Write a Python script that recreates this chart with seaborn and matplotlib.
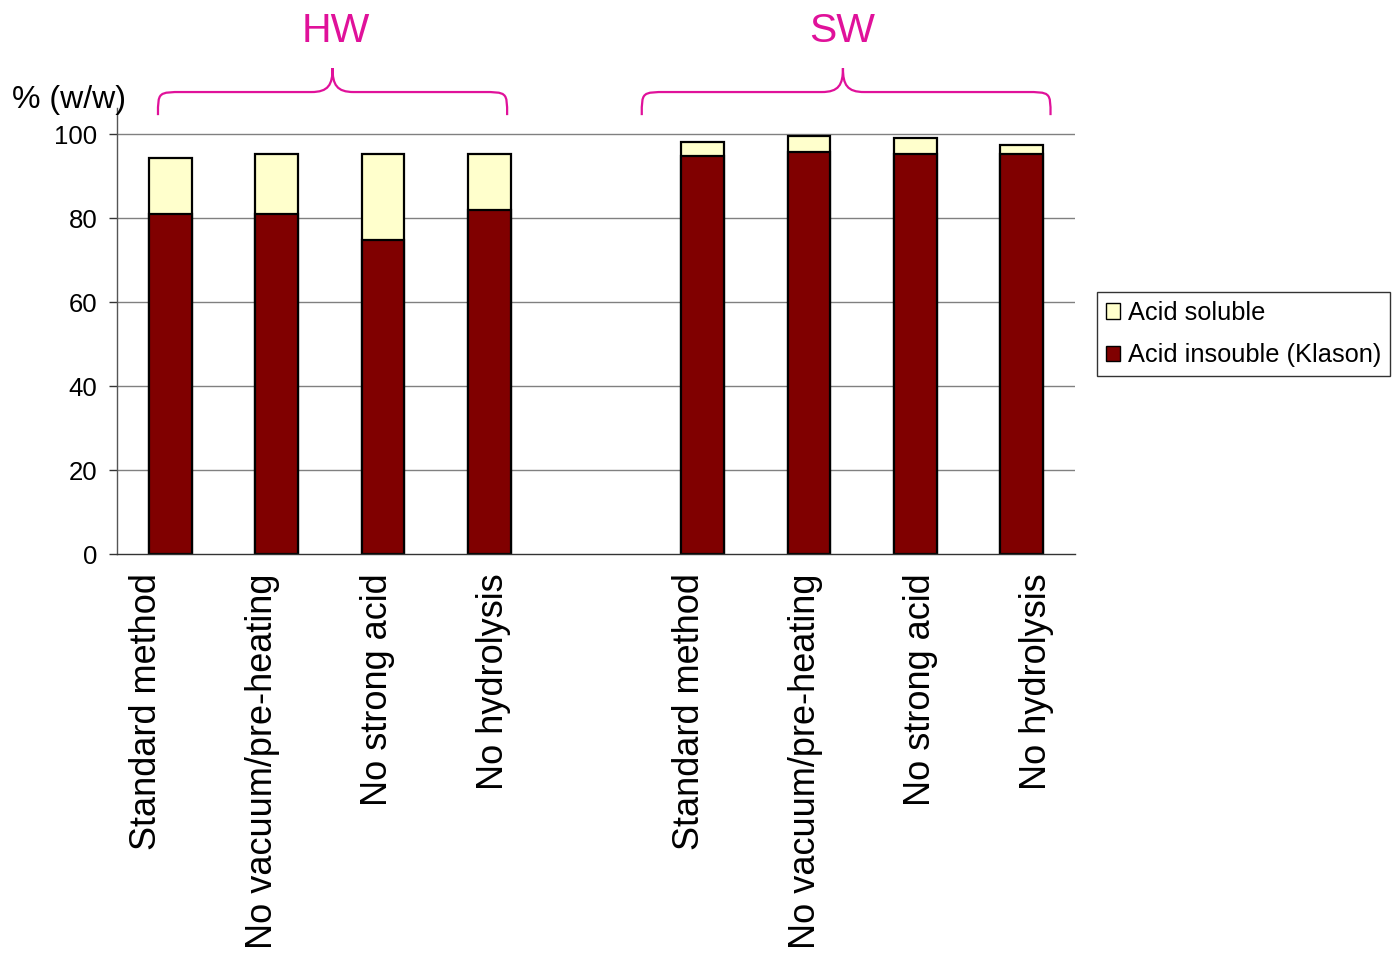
import numpy as np
import pandas as pd
import matplotlib
matplotlib.use("Agg")
import matplotlib.pyplot as plt
from matplotlib.path import Path
from matplotlib.patches import PathPatch, Patch
import seaborn as sns

# Lignin determination: acid-insoluble (Klason) and acid-soluble fractions
methods = ["Standard method", "No vacuum/pre-heating", "No strong acid", "No hydrolysis"]
groups = ["HW", "SW"]
hw_insoluble = [81.0, 81.0, 74.8, 82.0]
hw_soluble = [13.4, 14.3, 20.5, 13.3]
sw_insoluble = [94.8, 95.7, 95.3, 95.2]
sw_soluble = [3.4, 3.9, 3.8, 2.1]
y_ticks = [0, 20, 40, 60, 80, 100]

rows = []
for g, ins, sol in [("HW", hw_insoluble, hw_soluble), ("SW", sw_insoluble, sw_soluble)]:
    for m, a, b in zip(methods, ins, sol):
        rows.append({"key": f"{g}|{m}", "method": m, "insoluble": a, "soluble": b,
                     "total": a + b})
df = pd.DataFrame(rows)
order = [f"HW|{m}" for m in methods] + ["gap"] + [f"SW|{m}" for m in methods]

sns.set_theme(style="white")
plt.rcParams["font.family"] = ["Liberation Sans", "DejaVu Sans"]

y_top = 106.2
fig = plt.figure(figsize=(13.93, 9.58), dpi=100)
ax = fig.add_axes([117 / 1393, 1 - 554 / 958, (1075 - 117) / 1393, (554 - 108) / 958])

cream = "#FFFFCC"
maroon = "#800000"
sns.barplot(data=df, x="key", y="total", order=order, color=cream, saturation=1,
            width=0.4, edgecolor="black", linewidth=1.6, ax=ax, errorbar=None)
sns.barplot(data=df, x="key", y="insoluble", order=order, color=maroon, saturation=1,
            width=0.4, edgecolor="black", linewidth=1.6, ax=ax, errorbar=None)

ax.set_ylim(0, y_top)
ax.set_xlim(-0.5, len(order) - 0.5)
ax.set_yticks(y_ticks)
ax.set_yticklabels([str(v) for v in y_ticks], fontsize=18.5, color="black")

# Category labels sit on a slightly wider pitch than the bars
label_step = 1.085
label_pos = [-0.22 + label_step * i for i in range(4)] + [4.88 + label_step * i for i in range(4)]
ax.set_xticks(label_pos)
ax.set_xticklabels(methods + methods, rotation=90, fontsize=26, color="black")
ax.tick_params(axis="x", which="major", length=0, pad=14)
ax.set_xticks(np.arange(-0.5, len(order), 1.0), minor=True)
ax.tick_params(axis="x", which="minor", length=7, width=1, color="#333333", direction="out")
ax.tick_params(axis="y", length=6, width=1, color="#333333", direction="out", left=True, pad=8)
ax.set_xlabel("")
ax.set_ylabel("")

for v in y_ticks[1:]:
    ax.axhline(v, color="#808080", linewidth=1.0, zorder=0)
ax.set_axisbelow(True)

for side in ["top", "right"]:
    ax.spines[side].set_visible(False)
ax.spines["left"].set_color("#555555")
ax.spines["bottom"].set_color("#333333")
ax.spines["left"].set_linewidth(1.0)
ax.spines["bottom"].set_linewidth(1.0)

# Curly braces marking the wood types
pink = "#E0119A"

def brace(x0, x1, xm, ye=104.5, yf=110.0, yp=115.7, rx=0.24, rm=0.2):
    verts = [
        (x0, ye), (x0, yf), (x0, yf), (x0 + rx, yf),
        (xm - rm, yf),
        (xm - rm * 0.2, yf), (xm, yf + (yp - yf) * 0.3), (xm, yp),
        (xm, yf + (yp - yf) * 0.3), (xm + rm * 0.2, yf), (xm + rm, yf),
        (x1 - rx, yf),
        (x1, yf), (x1, yf), (x1, ye),
    ]
    codes = [Path.MOVETO, Path.CURVE4, Path.CURVE4, Path.CURVE4,
             Path.LINETO,
             Path.CURVE4, Path.CURVE4, Path.CURVE4,
             Path.CURVE4, Path.CURVE4, Path.CURVE4,
             Path.LINETO,
             Path.CURVE4, Path.CURVE4, Path.CURVE4]
    ax.add_patch(PathPatch(Path(verts, codes), facecolor="none", edgecolor=pink,
                           linewidth=1.6, clip_on=False))

brace(-0.115, 3.165, 1.525)
brace(4.43, 8.27, 6.32)

fig.text(336 / 1393, 1 - 31 / 958, "HW", color=pink, fontsize=29.5, ha="center", va="center")
fig.text(842 / 1393, 1 - 31 / 958, "SW", color=pink, fontsize=29.5, ha="center", va="center")
fig.text(12 / 1393, 1 - 100 / 958, "% (w/w)", fontsize=23, ha="left", va="center",
         color="black")

handles = [Patch(facecolor=cream, edgecolor="black", linewidth=1.0, label="Acid soluble"),
           Patch(facecolor=maroon, edgecolor="black", linewidth=1.0, label="Acid insouble (Klason)")]
leg = fig.legend(handles=handles, loc="upper left",
                 bbox_to_anchor=(1097 / 1393, 1 - 292 / 958),
                 fontsize=18.3, frameon=True, fancybox=False, handlelength=0.55,
                 handleheight=0.55, handletextpad=0.3, borderpad=0.35,
                 labelspacing=0.72, borderaxespad=0)
for t in leg.get_texts():
    t.set_color("black")
leg.get_frame().set_edgecolor("black")
leg.get_frame().set_linewidth(1.0)

fig.savefig("out.png", dpi=100)
